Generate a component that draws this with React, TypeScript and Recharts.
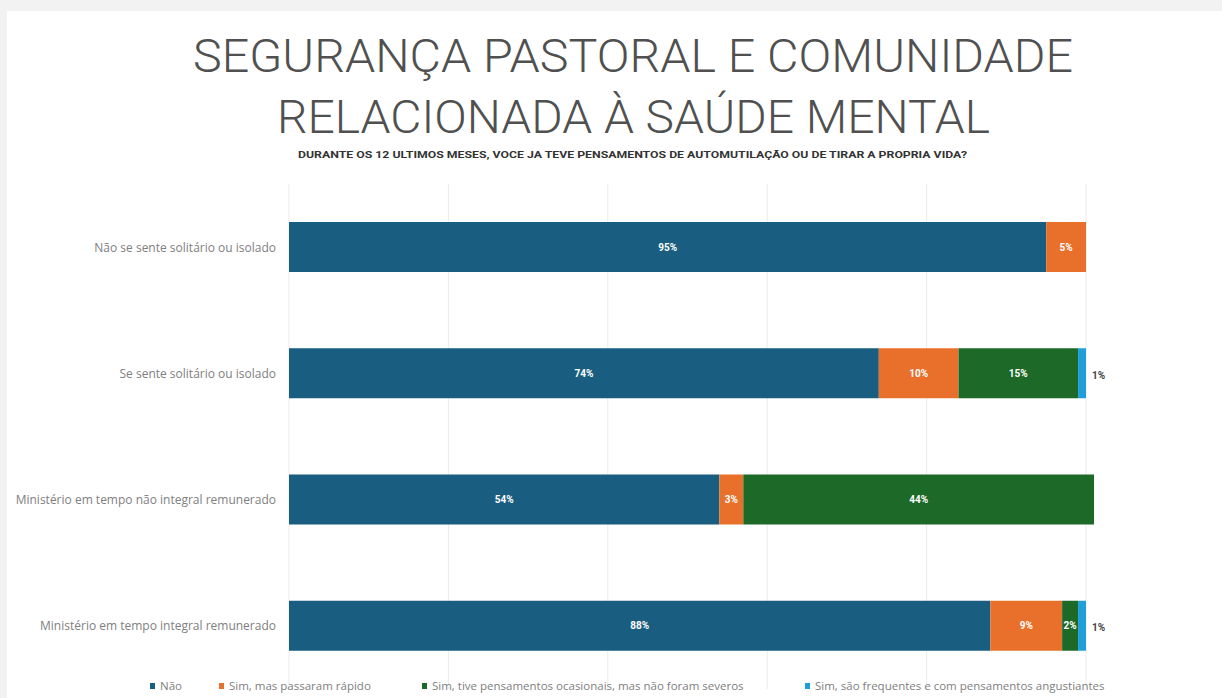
import { BarChart, Bar, XAxis, YAxis, CartesianGrid, LabelList } from 'recharts';

const categories = [
  'Não se sente solitário ou isolado',
  'Se sente solitário ou isolado',
  'Ministério em tempo não integral remunerado',
  'Ministério em tempo integral remunerado',
];

const nao = [95, 74, 54, 88];
const simRapido = [5, 10, 3, 9];
const simOcasionais = [0, 15, 44, 2];
const simFrequentes = [0, 1, 0, 1];

const xTicks = [0, 20, 40, 60, 80, 100];
const X_MAX = 101; // third row sums to 101%

const seriesNames = [
  'Não',
  'Sim, mas passaram rápido',
  'Sim, tive pensamentos ocasionais, mas não foram severos',
  'Sim, são frequentes e com pensamentos angustiantes',
];

const COLORS = ['#195e80', '#e8702b', '#1d6a28', '#1f9fda'];
const legendLeft = [150, 219, 422, 805];

const data = categories.map((name, i) => ({
  name,
  nao: nao[i],
  simRapido: simRapido[i],
  simOcasionais: simOcasionais[i],
  simFrequentes: simFrequentes[i],
}));

const FONT = 'Roboto, "Open Sans", sans-serif';

function InsideLabel(props: any) {
  const { x, y, width, height, value } = props;
  if (!value) return null;
  return (
    <text
      x={x + width / 2}
      y={y + height / 2}
      fill="#fff"
      fontSize={10}
      fontWeight={700}
      fontFamily={FONT}
      textAnchor="middle"
      dominantBaseline="central"
    >
      {value}%
    </text>
  );
}

function OutsideLabel(props: any) {
  const { x, y, width, height, value } = props;
  if (!value) return null;
  return (
    <text
      x={x + width + 6}
      y={y + height / 2 + 2}
      fill="#444"
      fontSize={10}
      fontWeight={700}
      fontFamily={FONT}
      textAnchor="start"
      dominantBaseline="central"
    >
      {value}%
    </text>
  );
}

function CategoryTick(props: any) {
  const { x, y, payload } = props;
  return (
    <text
      x={x}
      y={y}
      fill="#808080"
      fontSize={12}
      fontFamily='"Open Sans", sans-serif'
      textAnchor="end"
      dominantBaseline="central"
    >
      {payload.value}
    </text>
  );
}

// grid lines only at the 20% steps, not at the plot edge
const gridX = ({ offset }: any) => {
  if (!offset) return [];
  return xTicks.map((t) => offset.left + (t / X_MAX) * offset.width);
};

export default function App() {
  return (
    <div
      style={{
        position: 'fixed',
        left: 0,
        top: 0,
        width: 1222,
        height: 698,
        background: '#f2f2f2',
        overflow: 'hidden',
      }}
    >
      <div
        style={{
          position: 'absolute',
          left: 7,
          top: 11,
          width: 1215,
          height: 687,
          background: '#fff',
        }}
      />

      {/* Title */}
      <svg width={1222} height={170} style={{ position: 'absolute', left: 0, top: 0 }}>
        <text
          x={193}
          y={72}
          fontFamily={FONT}
          fontWeight={300}
          fontSize={46}
          fill="#505050"
          textLength={880}
          lengthAdjust="spacingAndGlyphs"
        >
          SEGURANÇA PASTORAL E COMUNIDADE
        </text>
        <text
          x={277}
          y={133}
          fontFamily={FONT}
          fontWeight={300}
          fontSize={46}
          fill="#505050"
          textLength={713}
          lengthAdjust="spacingAndGlyphs"
        >
          RELACIONADA À SAÚDE MENTAL
        </text>
        <text
          x={298}
          y={158}
          fontFamily={FONT}
          fontWeight={700}
          fontSize={9}
          fill="#333"
          textLength={669}
          lengthAdjust="spacingAndGlyphs"
        >
          DURANTE OS 12 ULTIMOS MESES, VOCE JA TEVE PENSAMENTOS DE AUTOMUTILAÇÃO OU DE TIRAR A PROPRIA VIDA?
        </text>
      </svg>

      <div style={{ position: 'absolute', left: 0, top: 0 }}>
        <BarChart
          width={1222}
          height={698}
          data={data}
          layout="vertical"
          margin={{ top: 184, right: 128, bottom: 9, left: 0 }}
          barCategoryGap={0}
        >
          <CartesianGrid
            horizontal={false}
            vertical={true}
            stroke="#ebebeb"
            verticalCoordinatesGenerator={gridX}
          />
          <XAxis type="number" domain={[0, X_MAX]} ticks={xTicks} hide />
          <YAxis
            type="category"
            dataKey="name"
            width={289}
            axisLine={false}
            tickLine={false}
            tickSize={0}
            tickMargin={13}
            tick={<CategoryTick />}
          />
          <Bar dataKey="nao" stackId="a" fill={COLORS[0]} barSize={50} isAnimationActive={false}>
            <LabelList dataKey="nao" content={<InsideLabel />} />
          </Bar>
          <Bar dataKey="simRapido" stackId="a" fill={COLORS[1]} barSize={50} isAnimationActive={false}>
            <LabelList dataKey="simRapido" content={<InsideLabel />} />
          </Bar>
          <Bar dataKey="simOcasionais" stackId="a" fill={COLORS[2]} barSize={50} isAnimationActive={false}>
            <LabelList dataKey="simOcasionais" content={<InsideLabel />} />
          </Bar>
          <Bar dataKey="simFrequentes" stackId="a" fill={COLORS[3]} barSize={50} isAnimationActive={false}>
            <LabelList dataKey="simFrequentes" content={<OutsideLabel />} />
          </Bar>
        </BarChart>
      </div>

      {/* Legend */}
      {seriesNames.map((name, i) => (
        <div
          key={name}
          style={{
            position: 'absolute',
            left: legendLeft[i],
            top: 678,
            display: 'flex',
            alignItems: 'center',
            fontFamily: '"Open Sans", sans-serif',
            fontSize: 11.5,
            color: '#808080',
            whiteSpace: 'nowrap',
          }}
        >
          <span
            style={{
              display: 'inline-block',
              width: 5,
              height: 6,
              background: COLORS[i],
              marginRight: 5,
            }}
          />
          {name}
        </div>
      ))}
    </div>
  );
}
